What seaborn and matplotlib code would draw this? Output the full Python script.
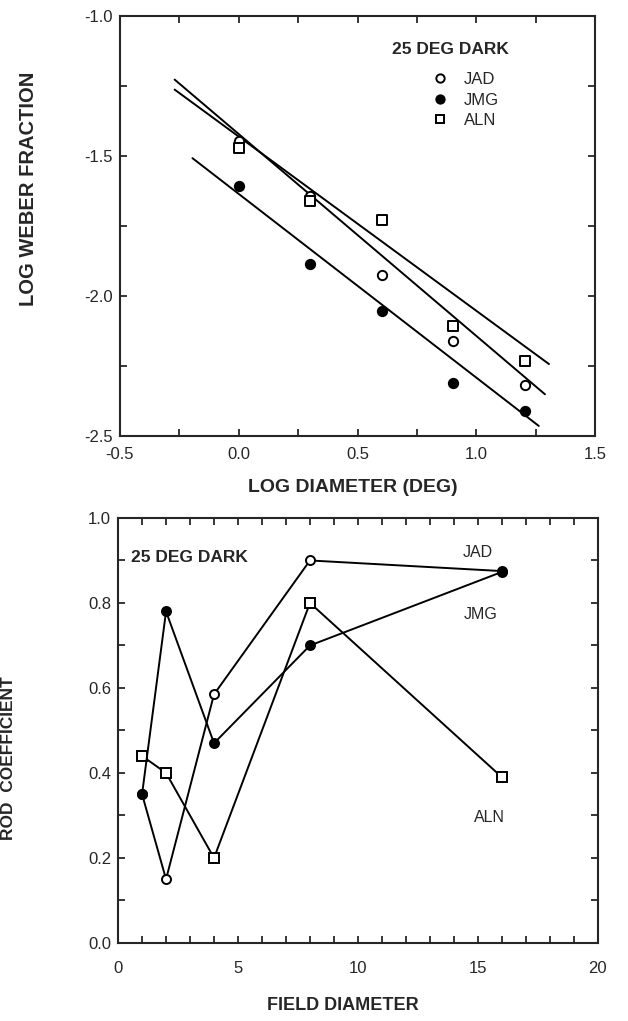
import numpy as np
import pandas as pd
import matplotlib
matplotlib.use("Agg")
import matplotlib.pyplot as plt
import seaborn as sns
from matplotlib.ticker import MultipleLocator, FormatStrFormatter
from matplotlib.lines import Line2D

# ---------------- data ----------------
subjects = ["JAD", "JMG", "ALN"]
field_diameter = [1, 2, 4, 8, 16]
log_diameter = list(np.log10(field_diameter))

weber_jad = [-1.445, -1.642, -1.925, -2.161, -2.317]
weber_jmg = [-1.606, -1.886, -2.052, -2.312, -2.411]
weber_aln = [-1.469, -1.660, -1.729, -2.108, -2.231]

# fitted lines (slope, intercept, x extent)
fit_slope = [-0.722, -0.657, -0.623]
fit_intercept = [-1.421, -1.635, -1.430]
fit_x_start = [-0.27, -0.195, -0.27]
fit_x_end = [1.288, 1.262, 1.305]

rod_jad = [0.35, 0.15, 0.585, 0.90, 0.875]
rod_jmg = [0.35, 0.78, 0.47, 0.70, 0.873]
rod_aln = [0.44, 0.40, 0.20, 0.80, 0.39]

condition_label = "25 DEG DARK"

# ---------------- style ----------------
sns.set_theme(style="ticks")
plt.rcParams["font.family"] = ["Liberation Sans", "DejaVu Sans"]
plt.rcParams["axes.linewidth"] = 1.5

marker_style = {
    "JAD": dict(marker="o", face="white"),
    "JMG": dict(marker="o", face="black"),
    "ALN": dict(marker="s", face="white"),
}

fig = plt.figure(figsize=(6.28, 10.21), dpi=100)
ax1 = fig.add_axes([0.191, 0.573, 0.757, 0.411])
ax2 = fig.add_axes([0.188, 0.0764, 0.764, 0.4163])

# ---------------- top panel ----------------
weber = {"JAD": weber_jad, "JMG": weber_jmg, "ALN": weber_aln}
for i, s in enumerate(subjects):
    xs = np.array([fit_x_start[i], fit_x_end[i]])
    ys = fit_intercept[i] + fit_slope[i] * xs
    sns.lineplot(x=xs, y=ys, ax=ax1, color="black", lw=1.4, sort=False)
for s in subjects:
    df = pd.DataFrame({"x": log_diameter, "y": weber[s]})
    sns.scatterplot(data=df, x="x", y="y", ax=ax1, marker=marker_style[s]["marker"],
                    s=45, facecolor=marker_style[s]["face"], edgecolor="black",
                    linewidth=1.4, zorder=5)

ax1.set_xlim(-0.5, 1.5)
ax1.set_ylim(-2.5, -1.0)
ax1.xaxis.set_major_locator(MultipleLocator(0.5))
ax1.xaxis.set_minor_locator(MultipleLocator(0.25))
ax1.yaxis.set_major_locator(MultipleLocator(0.5))
ax1.yaxis.set_minor_locator(MultipleLocator(0.25))
ax1.xaxis.set_major_formatter(FormatStrFormatter("%.1f"))
ax1.yaxis.set_major_formatter(FormatStrFormatter("%.1f"))
ax1.tick_params(which="both", direction="in", top=True, right=True,
                length=5, width=1.3, labelsize=12)
ax1.tick_params(axis="x", pad=8)
ax1.tick_params(axis="y", pad=5)
ax1.set_xlabel("LOG DIAMETER (DEG)", fontsize=14, fontweight="bold")
ax1.set_ylabel("LOG WEBER FRACTION", fontsize=14.5, fontweight="bold")
ax1.xaxis.set_label_coords(0.49, -0.103)
ax1.yaxis.set_label_coords(-0.172, 0.59)
ax1.text(0.573, 0.922, condition_label, transform=ax1.transAxes,
         fontsize=12.5, fontweight="bold", ha="left", va="center")

handles = [Line2D([], [], ls="none", marker=marker_style[s]["marker"], markersize=6,
                  markerfacecolor=marker_style[s]["face"], markeredgecolor="black",
                  markeredgewidth=1.4, label=s) for s in subjects]
leg = ax1.legend(handles=handles, loc="upper left", bbox_to_anchor=(0.632, 0.895),
                 frameon=False, fontsize=12, handlelength=1.0, handletextpad=0.9,
                 labelspacing=0.33, borderpad=0.2)

# ---------------- bottom panel ----------------
rod = {"JAD": rod_jad, "ALN": rod_aln, "JMG": rod_jmg}
for s in ["JAD", "ALN", "JMG"]:
    df = pd.DataFrame({"x": field_diameter, "y": rod[s]})
    sns.lineplot(data=df, x="x", y="y", ax=ax2, color="black", lw=1.4, sort=False,
                 marker=marker_style[s]["marker"], markersize=6.5,
                 markerfacecolor=marker_style[s]["face"], markeredgecolor="black",
                 markeredgewidth=1.4)

ax2.set_xlim(0, 20)
ax2.set_ylim(0, 1.0)
ax2.xaxis.set_major_locator(MultipleLocator(5))
ax2.xaxis.set_minor_locator(MultipleLocator(1))
ax2.yaxis.set_major_locator(MultipleLocator(0.2))
ax2.yaxis.set_minor_locator(MultipleLocator(0.1))
ax2.yaxis.set_major_formatter(FormatStrFormatter("%.1f"))
ax2.tick_params(which="both", direction="in", top=True, right=True,
                length=5, width=1.3, labelsize=12)
ax2.tick_params(axis="x", pad=13)
ax2.tick_params(axis="y", pad=5)
ax2.set_xlabel("FIELD DIAMETER", fontsize=13, fontweight="bold")
ax2.set_ylabel("ROD  COEFFICIENT", fontsize=12.5, fontweight="bold")
ax2.xaxis.set_label_coords(0.469, -0.128)
ax2.yaxis.set_label_coords(-0.212, 0.435)

ax2.text(0.027, 0.908, condition_label, transform=ax2.transAxes,
         fontsize=12.5, fontweight="bold", ha="left", va="center")
label_pos = {"JAD": (15.0, 0.918), "JMG": (15.1, 0.772), "ALN": (15.5, 0.296)}
for s in subjects:
    ax2.text(label_pos[s][0], label_pos[s][1], s, fontsize=11.5,
             ha="center", va="center")

fig.savefig("out.png", dpi=100)
